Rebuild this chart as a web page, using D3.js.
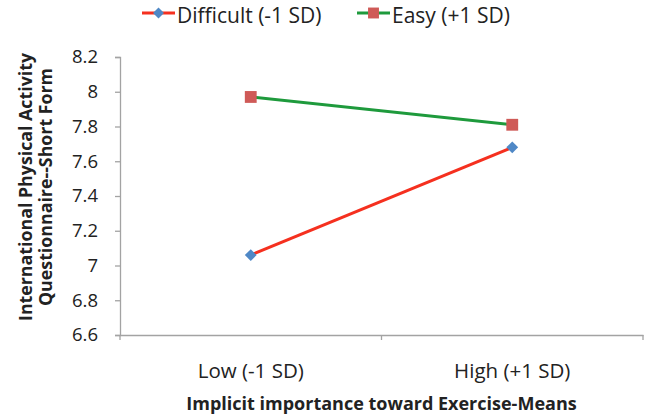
<!DOCTYPE html>
<html>
<head>
<meta charset="utf-8">
<script src="https://cdn.jsdelivr.net/npm/d3@7"></script>
<style>
  body { margin: 0; background: #fff; }
  text { font-family: "Open Sans", "Liberation Sans", sans-serif; fill: #222; }
</style>
</head>
<body>
<div id="chart"></div>
<script>
const categories = ['Low (-1 SD)', 'High (+1 SD)'];
const seriesNames = ['Difficult (-1 SD)', 'Easy (+1 SD)'];
const difficult = [7.06, 7.68];
const easy = [7.97, 7.81];
const yTicks = [6.6, 6.8, 7, 7.2, 7.4, 7.6, 7.8, 8, 8.2];

const W = 646, H = 417;
const m = {left: 120, right: 3, top: 57, bottom: 82};

const svg = d3.select('#chart').append('svg').attr('width', W).attr('height', H);

const x = d3.scaleBand().domain(categories).range([m.left, W - m.right]);
const y = d3.scaleLinear().domain([6.6, 8.2]).range([H - m.bottom, m.top]);

// axes
const yAxis = svg.append('g').attr('transform', `translate(${m.left},0)`)
  .call(d3.axisLeft(y).tickValues(yTicks).tickSize(5).tickPadding(17).tickFormat(d3.format('~g')));
const xAxis = svg.append('g').attr('transform', `translate(0,${H - m.bottom})`)
  .call(d3.axisBottom(x).tickSize(0).tickPadding(0).tickFormat(''));
// boundary ticks between categories
xAxis.selectAll('.bt').data([m.left, x(categories[1]), W - m.right]).enter().append('line')
  .attr('x1', d => d).attr('x2', d => d).attr('y1', 0).attr('y2', 5);
xAxis.selectAll('.cl').data(categories).enter().append('text')
  .attr('x', d => x(d) + x.bandwidth() / 2).attr('y', 43)
  .attr('text-anchor', 'middle').style('font-size', '20.5px').text(d => d);

[yAxis, xAxis].forEach(a => {
  a.select('.domain').attr('stroke', '#a3a3a3').attr('stroke-width', 1.3);
  a.selectAll('line').attr('stroke', '#a3a3a3').attr('stroke-width', 1.3);
});
yAxis.selectAll('.tick text').style('font-size', '18.5px').attr('fill', '#222');

// axis titles
svg.append('text').attr('x', (m.left + W - m.right) / 2).attr('y', 410)
  .attr('text-anchor', 'middle').style('font-size', '18px').style('font-weight', 'bold')
  .text('Implicit importance toward Exercise-Means');
const yt = svg.append('text').attr('transform', 'translate(32,187) rotate(-90)')
  .attr('text-anchor', 'middle').style('font-size', '17.8px').style('font-weight', 'bold');
yt.append('tspan').attr('x', 0).attr('dy', 0).text('International Physical Activity');
yt.append('tspan').attr('x', 0).attr('dy', 20).text('Questionnaire--Short Form');

// series
const series = [
  {name: seriesNames[0], values: difficult, line: '#f5301f', marker: '#4f88c6', rot: 45, size: 70},
  {name: seriesNames[1], values: easy, line: '#1e9a3c', marker: '#cf5a57', rot: 0, size: 140}
];
const cx = c => x(c) + x.bandwidth() / 2;
const line = d3.line().x((d, i) => cx(categories[i])).y(d => y(d));

series.forEach(s => {
  svg.append('path').datum(s.values).attr('fill', 'none')
    .attr('stroke', s.line).attr('stroke-width', 3).attr('d', line);
  svg.selectAll(null).data(s.values).enter().append('path')
    .attr('transform', (d, i) => `translate(${cx(categories[i])},${y(d)}) rotate(${s.rot})`)
    .attr('d', d3.symbol().type(d3.symbolSquare).size(s.size))
    .attr('fill', s.marker);
});

// legend
const legX = [142, 357];
series.forEach((s, i) => {
  const g = svg.append('g').attr('transform', `translate(${legX[i]},13)`);
  g.append('line').attr('x1', 0).attr('x2', 33).attr('stroke', s.line).attr('stroke-width', 3);
  g.append('path').attr('transform', `translate(16.5,0) rotate(${s.rot})`)
    .attr('d', d3.symbol().type(d3.symbolSquare).size(s.size * 0.85))
    .attr('fill', s.marker);
  g.append('text').attr('x', 35).attr('y', 10).style('font-size', '21px').text(s.name);
});
</script>
</body>
</html>
